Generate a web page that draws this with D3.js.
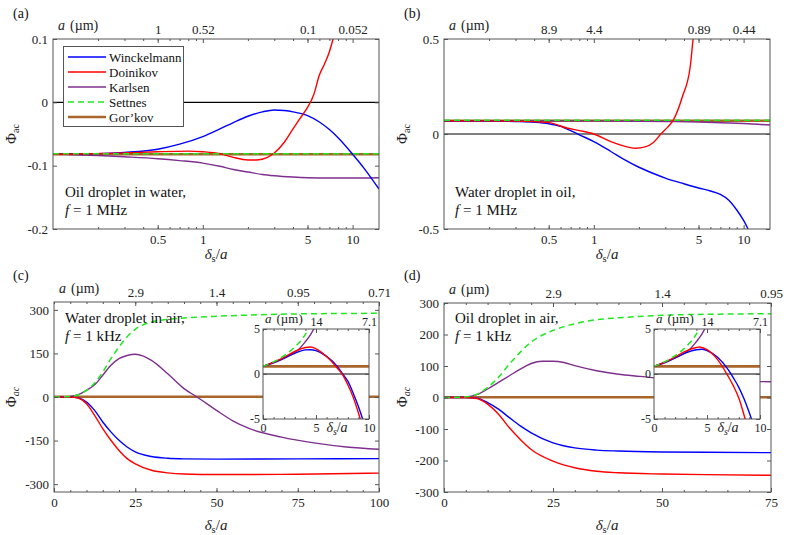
<!DOCTYPE html>
<html>
<head>
<meta charset="utf-8">
<script src="https://cdn.jsdelivr.net/npm/d3@7"></script>
<style>
body { margin: 0; background: #fff; }
</style>
</head>
<body>
<script>
var serif = "'Liberation Serif', 'Times New Roman', 'DejaVu Serif', serif";

// colours of the five models
var col = {
  winck: "#0000ff",
  doin: "#ff0000",
  karl: "#7e2f8e",
  sett: "#1fe81f",
  gork: "#a8652c"
};

/* ---- panel (a): oil droplet in water, 1 MHz ---- */
var aTopLabels = ["1", "0.52", "0.1", "0.052"];
var aGorkov = [[0.1, -0.082], [15, -0.082]];
var aSettnes = [[0.1, -0.081], [15, -0.081]];
var aWinck = [[0.1, -0.082], [0.2, -0.081], [0.3, -0.079], [0.5, -0.074], [0.7, -0.066], [1, -0.054],
  [1.3, -0.042], [1.6, -0.032], [2, -0.022], [2.5, -0.015], [3, -0.012], [3.5, -0.013], [4, -0.015],
  [5, -0.021], [6, -0.031], [7, -0.043], [8, -0.056], [10, -0.082], [12, -0.105], [15, -0.137]];
var aDoin = [[0.1, -0.082], [0.3, -0.080], [0.5, -0.078], [0.8, -0.077], [1, -0.078], [1.3, -0.081],
  [1.6, -0.087], [2, -0.091], [2.3, -0.091], [2.7, -0.087], [3, -0.080], [3.5, -0.063], [4, -0.042],
  [4.5, -0.024], [5, -0.008], [5.5, 0.012], [6, 0.043], [6.5, 0.061], [7, 0.080], [7.5, 0.105], [8, 0.13]];
var aKarl = [[0.1, -0.082], [0.2, -0.084], [0.3, -0.086], [0.5, -0.089], [0.7, -0.092], [1, -0.096],
  [1.3, -0.101], [1.6, -0.106], [2, -0.110], [2.5, -0.114], [3, -0.116], [4, -0.118], [5, -0.119],
  [7, -0.1195], [10, -0.1195], [15, -0.119]];

/* ---- panel (b): water droplet in oil, 1 MHz ---- */
var bTopLabels = ["8.9", "4.4", "0.89", "0.44"];
var bGorkov = [[0.1, 0.070], [15, 0.070]];
var bSettnes = [[0.1, 0.072], [15, 0.072]];
var bKarl = [[0.1, 0.070], [1, 0.069], [3, 0.066], [5, 0.063], [8, 0.058], [10, 0.055], [15, 0.047]];
var bWinck = [[0.1, 0.070], [0.2, 0.069], [0.3, 0.066], [0.4, 0.062], [0.5, 0.054], [0.6, 0.040],
  [0.7, 0.018], [0.8, -0.004], [1, -0.040], [1.3, -0.092], [1.6, -0.135], [2, -0.175], [2.5, -0.208],
  [3, -0.232], [4, -0.262], [5, -0.284], [6, -0.300], [7, -0.318], [8, -0.350], [9, -0.40],
  [10, -0.455], [10.7, -0.50], [11.5, -0.56]];
var bDoin = [[0.1, 0.070], [0.3, 0.068], [0.5, 0.060], [0.67, 0.030], [0.8, 0.018], [1, 0.000],
  [1.3, -0.040], [1.6, -0.064], [1.9, -0.075], [2.2, -0.068], [2.5, -0.045], [2.8, 0.000], [3.1, 0.035],
  [3.4, 0.074], [3.9, 0.196], [4.4, 0.354], [4.6, 0.50], [4.8, 0.62]];

/* ---- panel (c): water droplet in air, 1 kHz ---- */
var cTopLabels = ["2.9", "1.4", "0.95", "0.71"];
var cGorkov = [[0, 0.85], [100, 0.85]];
var cSettnes = [[0, 0], [5, 2], [7.5, 8], [10, 23], [12.5, 48], [15, 86], [17.5, 132], [20, 172],
  [22.5, 207], [25, 233], [30, 258], [35, 267], [40, 272], [50, 278], [60, 282], [75, 286], [100, 288]];
var cKarl = [[0, 0], [5, 2], [7.5, 8], [10, 23], [12.5, 42], [15, 75], [17.5, 109], [20, 132],
  [22.5, 143], [25, 147], [27.5, 141], [30, 126], [35, 80], [40, 29], [44, 0], [50, -46], [55, -82],
  [60, -108], [70, -138], [80, -158], [90, -172], [100, -180]];
var cWinck = [[0, 0], [5, 0], [7.5, -3], [10, -17], [12.5, -46], [15, -86], [17.5, -120], [20, -149],
  [22.5, -172], [25, -189], [30, -205], [35, -211], [40, -213], [50, -214], [75, -213], [100, -212]];
var cDoin = [[0, 0], [5, 0], [7.5, -4], [10, -23], [12.5, -63], [15, -109], [17.5, -149], [20, -184],
  [22.5, -212], [25, -230], [30, -252], [35, -261], [40, -265], [50, -267], [75, -266], [100, -262]];
// inset of (c)
var ciTopLabels = ["14", "7.1"];
var ciGorkov = [[0, 0.85], [10, 0.85]];
var ciSettnes = [[0, 0.85], [1, 1.35], [2, 2.05], [3, 3.0], [4, 4.4], [4.5, 5.5]];
var ciKarl = [[0, 0.85], [1, 1.33], [2, 1.8], [3, 2.4], [3.5, 2.9], [4, 3.6], [4.5, 4.4], [5, 5.5]];
var ciDoin = [[0, 0.85], [1, 1.3], [2, 1.85], [3, 2.5], [4, 2.95], [4.5, 3.0], [5, 2.8], [6, 1.95],
  [7, 0.67], [7.5, -0.07], [8, -1.2], [8.5, -2.55], [9, -4.3], [9.3, -5.5]];
var ciWinck = [[0, 0.85], [1, 1.25], [2, 1.75], [3, 2.3], [4, 2.68], [4.5, 2.7], [5, 2.6], [6, 1.96],
  [7, 0.85], [7.5, 0.04], [8, -0.8], [8.5, -2.1], [9, -3.6], [9.4, -5], [9.6, -5.8]];

/* ---- panel (d): oil droplet in air, 1 kHz ---- */
var dTopLabels = ["2.9", "1.4", "0.95"];
var dGorkov = [[0, 0.9], [75, 0.9]];
var dSettnes = [[0, 0], [5, 2], [7.5, 10], [10, 32], [12.5, 64], [15, 106], [17.5, 144], [20, 176],
  [25, 213], [30, 234], [35, 247], [40, 253], [50, 261], [60, 264], [75, 266]];
var dKarl = [[0, 0], [5, 2], [7.5, 9], [10, 27], [12.5, 48], [15, 69], [17.5, 90], [20, 108],
  [22.5, 115], [25, 115], [27.5, 111], [30, 101], [35, 85], [40, 74], [45, 67], [50, 60], [60, 54],
  [70, 51], [75, 50]];
var dWinck = [[0, 0], [5, 0], [7.5, -2], [10, -16], [12.5, -37], [15, -64], [17.5, -90], [20, -112],
  [25, -144], [30, -160], [35, -167], [40, -170], [50, -173], [60, -174], [75, -175]];
var dDoin = [[0, 0], [5, 0], [7.5, -3], [10, -21], [12.5, -53], [15, -96], [17.5, -133], [20, -165],
  [25, -202], [30, -223], [35, -234], [40, -239], [50, -243], [60, -245], [75, -247]];
// inset of (d)
var diTopLabels = ["14", "7.1"];
var diGorkov = [[0, 0.85], [10, 0.85]];
var diSettnes = [[0, 0.85], [1, 1.35], [2, 2.05], [3, 3.0], [4, 4.45], [4.5, 5.6]];
var diKarl = [[0, 0.85], [1, 1.33], [2, 1.8], [3, 2.4], [3.5, 2.9], [4, 3.6], [4.5, 4.4], [5, 5.5]];
var diDoin = [[0, 0.85], [1, 1.3], [2, 1.9], [3, 2.55], [4, 2.95], [4.3, 3.0], [5, 2.7], [6, 1.6],
  [7, -0.26], [7.5, -1.35], [8, -2.67], [8.6, -5], [8.8, -5.8]];
var diWinck = [[0, 0.85], [1, 1.25], [2, 1.8], [3, 2.35], [4, 2.7], [4.5, 2.75], [5, 2.6], [6, 1.85],
  [7, 0.48], [7.5, -0.45], [8, -1.48], [8.5, -2.78], [9, -4.33], [9.2, -5], [9.4, -5.7]];

var legendNames = ["Winckelmann", "Doinikov", "Karlsen", "Settnes", "Gor\u2019kov"];

var svg = d3.select("body").append("svg")
  .attr("width", 789)
  .attr("height", 535)
  .attr("font-family", serif);

// log-axis minor ticks (2..9 per decade)
var logMinor = [];
[0.1, 1, 10].forEach(function(dec) {
  for (var k = 2; k <= 9; k++) if (dec * k <= 15) logMinor.push(dec * k);
});
var frameCol = "#555";

function addAxis(g, axis, fs) {
  g.call(axis);
  g.select(".domain").remove();
  g.attr("font-family", serif).attr("font-size", fs).style("color", frameCol);
  g.selectAll("text").attr("fill", "#222");
}

function series(g, x, y, clip, list) {
  var line = d3.line()
    .x(function(d) { return x(d[0]); })
    .y(function(d) { return y(d[1]); })
    .curve(d3.curveMonotoneX);
  var lg = g.append("g").attr("clip-path", "url(#" + clip + ")");
  // zero line
  lg.append("line")
    .attr("x1", x.range()[0]).attr("x2", x.range()[1])
    .attr("y1", y(0)).attr("y2", y(0))
    .attr("stroke", "#000").attr("stroke-width", 1.1);
  list.forEach(function(s) {
    lg.append("path")
      .datum(s.data)
      .attr("d", line)
      .attr("fill", "none")
      .attr("stroke", s.c)
      .attr("stroke-width", s.w || 1.4)
      .attr("stroke-dasharray", s.dash || null);
  });
}

function models(go, se, ka, wi, doi) {
  return [
    {data: go, c: col.gork, w: 2.6},
    {data: ka, c: col.karl},
    {data: wi, c: col.winck},
    {data: doi, c: col.doin},
    {data: se, c: col.sett, w: 1.5, dash: "6,4"}
  ];
}

function panel(o) {
  var x = (o.log ? d3.scaleLog() : d3.scaleLinear()).domain(o.xd).range([o.l, o.r]);
  var y = d3.scaleLinear().domain(o.yd).range([o.b, o.t]);
  var g = svg.append("g");

  g.append("clipPath").attr("id", o.id)
    .append("rect")
    .attr("x", o.l).attr("y", o.t)
    .attr("width", o.r - o.l).attr("height", o.b - o.t);

  if (o.bg) {
    g.append("rect")
      .attr("x", o.l).attr("y", o.t)
      .attr("width", o.r - o.l).attr("height", o.b - o.t)
      .attr("fill", "#fff");
  }

  series(g, x, y, o.id, o.lines);

  // bottom axis
  addAxis(g.append("g").attr("transform", "translate(0," + o.b + ")"),
    d3.axisBottom(x).tickValues(o.xt).tickFormat(function(d) { return o.log ? d3.format("")(d) : d; })
      .tickSize(-4).tickPadding(o.inset ? 4 : 6), o.fs);
  addAxis(g.append("g").attr("transform", "translate(0," + o.b + ")"),
    d3.axisBottom(x).tickValues(o.xm).tickFormat("").tickSize(-2), o.fs);
  // top axis (particle radius)
  addAxis(g.append("g").attr("transform", "translate(0," + o.t + ")"),
    d3.axisTop(x).tickValues(o.tt).tickFormat(function(d, i) { return o.tl[i]; })
      .tickSize(-4).tickPadding(o.inset ? 3 : 5), o.fs);
  addAxis(g.append("g").attr("transform", "translate(0," + o.t + ")"),
    d3.axisTop(x).tickValues(o.xm).tickFormat("").tickSize(-2), o.fs);
  // left / right axes
  addAxis(g.append("g").attr("transform", "translate(" + o.l + ",0)"),
    d3.axisLeft(y).tickValues(o.yt).tickFormat(function(d) { return String(d); })
      .tickSize(-4).tickPadding(o.inset ? 3 : 5), o.fs);
  addAxis(g.append("g").attr("transform", "translate(" + o.r + ",0)"),
    d3.axisRight(y).tickValues(o.yt).tickFormat("").tickSize(-4), o.fs);

  g.append("rect")
    .attr("x", o.l).attr("y", o.t)
    .attr("width", o.r - o.l).attr("height", o.b - o.t)
    .attr("fill", "none").attr("stroke", frameCol).attr("stroke-width", 1);

  // "a (µm)" caption on the top axis
  var cap = g.append("text")
    .attr("x", o.l + (o.inset ? 2 : 5)).attr("y", o.t - (o.inset ? 6 : 9))
    .attr("font-size", o.inset ? 13 : 14).attr("fill", "#222");
  cap.append("tspan").attr("font-style", "italic").text("a");
  cap.append("tspan").attr("dx", 5).text("(\u00b5m)");

  return {g: g, x: x, y: y};
}

function xLabel(g, cx, cy, fs, italicSub) {
  var t = g.append("text").attr("x", cx).attr("y", cy).attr("text-anchor", "middle")
    .attr("font-size", fs).attr("fill", "#222");
  t.append("tspan").attr("font-style", "italic").text("\u03b4");
  t.append("tspan").attr("font-size", fs * 0.7).attr("dy", 3)
    .attr("font-style", italicSub ? "italic" : null).text("s");
  t.append("tspan").attr("dy", -3).text("/");
  t.append("tspan").attr("font-style", "italic").text("a");
}

function yLabel(g, cx, cy, italicSub) {
  var t = g.append("text").attr("transform", "translate(" + cx + "," + cy + ") rotate(-90)")
    .attr("text-anchor", "middle").attr("font-size", 15).attr("fill", "#222");
  t.append("tspan").text("\u03a6");
  t.append("tspan").attr("font-size", 10).attr("dy", 3)
    .attr("font-style", italicSub ? "italic" : null).text("ac");
}

function note(g, x0, y0, line1, unit) {
  g.append("text").attr("x", x0).attr("y", y0).attr("font-size", 15).attr("fill", "#111").text(line1);
  var t = g.append("text").attr("x", x0).attr("y", y0 + 18).attr("font-size", 15).attr("fill", "#111");
  t.append("tspan").attr("font-style", "italic").text("f");
  t.append("tspan").text(" = 1 " + unit);
}

function letter(x0, y0, s) {
  svg.append("text").attr("x", x0).attr("y", y0).attr("font-size", 14).attr("fill", "#111").text(s);
}

var linMinor100 = d3.range(0, 101, 5);
var linMinor75 = d3.range(0, 76, 5);
var insetMinor = d3.range(0, 11, 1);

/* (a) */
var pa = panel({id: "ca", l: 53, r: 379, t: 39, b: 229, log: true, xd: [0.1, 15], yd: [-0.2, 0.1],
  xt: [0.5, 1, 5, 10], xm: logMinor, tt: [0.5, 1, 5, 10], tl: aTopLabels,
  yt: [-0.2, -0.1, 0, 0.1], fs: 13,
  lines: models(aGorkov, aSettnes, aKarl, aWinck, aDoin)});
xLabel(pa.g, 216, 259, 15, false);
yLabel(pa.g, 16, 134, false);
note(pa.g, 65, 197, "Oil droplet in water,", "MHz");
letter(13, 18, "(a)");

// legend
var leg = pa.g.append("g");
leg.append("rect").attr("x", 63.5).attr("y", 46.5).attr("width", 120).attr("height", 80)
  .attr("fill", "#fff").attr("stroke", frameCol);
var legStyle = [
  {c: col.winck, w: 1.4}, {c: col.doin, w: 1.4}, {c: col.karl, w: 1.4},
  {c: col.sett, w: 1.5, dash: "6,4"}, {c: col.gork, w: 2.6}
];
legendNames.forEach(function(n, i) {
  var yy = 57 + i * 15;
  leg.append("line").attr("x1", 68).attr("x2", 106).attr("y1", yy).attr("y2", yy)
    .attr("stroke", legStyle[i].c).attr("stroke-width", legStyle[i].w)
    .attr("stroke-dasharray", legStyle[i].dash || null);
  leg.append("text").attr("x", 109).attr("y", yy + 4.5).attr("font-size", 13).attr("fill", "#111").text(n);
});

/* (b) */
var pb = panel({id: "cb", l: 444, r: 770, t: 39, b: 229, log: true, xd: [0.1, 15], yd: [-0.5, 0.5],
  xt: [0.5, 1, 5, 10], xm: logMinor, tt: [0.5, 1, 5, 10], tl: bTopLabels,
  yt: [-0.5, 0, 0.5], fs: 13,
  lines: models(bGorkov, bSettnes, bKarl, bWinck, bDoin)});
xLabel(pb.g, 607, 259, 15, false);
yLabel(pb.g, 407, 134, false);
note(pb.g, 455, 197, "Water droplet in oil,", "MHz");
letter(404, 18, "(b)");

/* (c) */
var pc = panel({id: "cc", l: 54, r: 379, t: 302, b: 492, xd: [0, 100], yd: [-327, 327],
  xt: [0, 25, 50, 75, 100], xm: linMinor100, tt: [25, 50, 75, 100], tl: cTopLabels,
  yt: [-300, -150, 0, 150, 300], fs: 13,
  lines: models(cGorkov, cSettnes, cKarl, cWinck, cDoin)});
xLabel(pc.g, 216, 530, 15, false);
yLabel(pc.g, 16, 397, true);
note(pc.g, 65, 323, "Water droplet in air,", "kHz");
letter(13, 280, "(c)");

var pci = panel({id: "cci", l: 263, r: 369, t: 329, b: 419, xd: [0, 10], yd: [-5, 5], inset: true, bg: true,
  xt: [0, 5, 10], xm: insetMinor, tt: [5, 10], tl: ciTopLabels,
  yt: [-5, 0, 5], fs: 12,
  lines: models(ciGorkov, ciSettnes, ciKarl, ciWinck, ciDoin)});
xLabel(pci.g, 337, 432, 14, true);

/* (d) */
var pd = panel({id: "cd", l: 444, r: 771, t: 303, b: 492, xd: [0, 75], yd: [-300, 300],
  xt: [0, 25, 50, 75], xm: linMinor75, tt: [25, 50, 75], tl: dTopLabels,
  yt: [-300, -200, -100, 0, 100, 200, 300], fs: 13,
  lines: models(dGorkov, dSettnes, dKarl, dWinck, dDoin)});
xLabel(pd.g, 607, 530, 15, false);
yLabel(pd.g, 407, 397, true);
note(pd.g, 455, 323, "Oil droplet in air,", "kHz");
letter(404, 280, "(d)");

var pdi = panel({id: "cdi", l: 654, r: 760, t: 329, b: 419, xd: [0, 10], yd: [-5, 5], inset: true, bg: true,
  xt: [0, 5, 10], xm: insetMinor, tt: [5, 10], tl: diTopLabels,
  yt: [-5, 0, 5], fs: 12,
  lines: models(diGorkov, diSettnes, diKarl, diWinck, diDoin)});
xLabel(pdi.g, 728, 432, 14, true);

svg.selectAll("text").attr("font-family", serif);
</script>
</body>
</html>
